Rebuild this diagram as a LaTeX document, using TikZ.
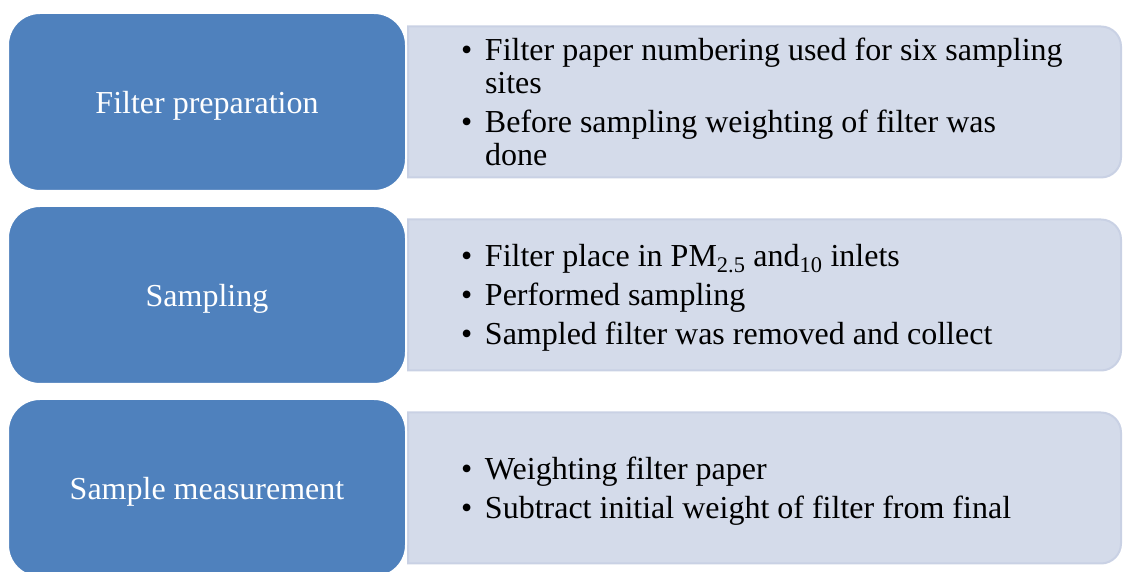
\documentclass[tikz,border=0pt]{standalone}
\usepackage{fontspec}
\setmainfont{Liberation Serif}
\usetikzlibrary{positioning, backgrounds}
\definecolor{stageblue}{RGB}{79,129,189}
\definecolor{notefill}{RGB}{212,219,234}
\definecolor{noteline}{RGB}{201,209,228}
% bullet text: ragged, no hyphens, a little space between points
\newcommand{\notefont}{\fontsize{32}{33}\selectfont\raggedright
    \hyphenpenalty=10000 \setlength{\parskip}{6pt}}
% block of points, and one point with hanging indent
\newcommand{\notelist}[1]{\parbox{640pt}{\notefont\kern2pt #1}}
\newcommand{\bitem}[1]{\hangindent=40.5pt\hangafter=1\noindent
    \hspace*{16.5pt}\makebox[24pt][l]{\strut\textbullet}#1\strut\par}
\tikzset{
    stage/.style={fill=stageblue, draw=white, line width=2pt, rounded corners=32pt,
        minimum width=398pt, minimum height=178pt, outer sep=0pt, text depth=0pt,
        text=white, font=\fontsize{32}{36}\selectfont},
    notes/.style={minimum width=713pt, minimum height=151pt,
        inner xsep=36.5pt, inner ysep=0pt, outer sep=0pt},
    notebg/.style={fill=notefill, draw=noteline, line width=2pt}
}

\begin{document}
\begin{tikzpicture}[x=1pt, y=1pt]
    \useasboundingbox (0,0) rectangle (1123,572);

    % steps on the left
    \node[stage] (prep) at (207,470) {Filter preparation};
    \node[stage, below=15pt of prep] (samp) {Sampling};
    \node[stage, below=15pt of samp] (meas) {Sample measurement};

    % what is done in each step
    \node[notes, right=2pt of prep] (prepnotes) {\notelist{%
        \bitem{Filter paper numbering used for six sampling\newline sites}
        \bitem{Before sampling weighting of filter was\newline done}}};
    \node[notes, right=2pt of samp] (sampnotes) {\notelist{%
        \bitem{Filter place in PM\textsubscript{2.5} and\textsubscript{10} inlets}
        \bitem{Performed sampling}
        \bitem{Sampled filter was removed and collect}}};
    \node[notes, right=2pt of meas] (measnotes) {\notelist{%
        \bitem{Weighting filter paper}
        \bitem{Subtract initial weight of filter from final}}};

    \begin{scope}[on background layer]
        \foreach \n in {prepnotes, sampnotes, measnotes}
            \draw[notebg] (\n.north west) -- ([xshift=-20pt]\n.north east)
                arc[start angle=90, end angle=0, radius=20pt]
                -- ([yshift=20pt]\n.south east)
                arc[start angle=0, end angle=-90, radius=20pt]
                -- (\n.south west) -- cycle;
    \end{scope}
\end{tikzpicture}
\end{document}
